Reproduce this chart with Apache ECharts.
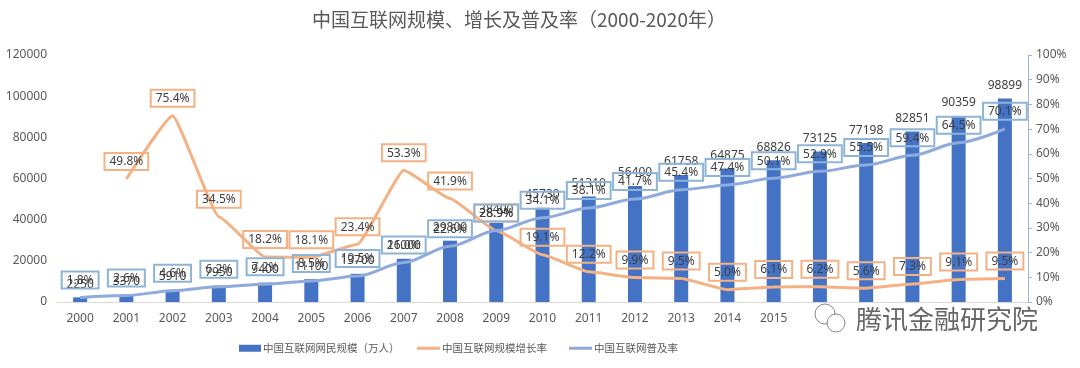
<!DOCTYPE html>
<html>
<head>
<meta charset="utf-8">
<script src="https://cdn.jsdelivr.net/npm/echarts@6/dist/echarts.min.js"></script>
<style>html,body{margin:0;padding:0;background:#fff;}#chart{width:1080px;height:368px;}</style>
</head>
<body>
<div id="chart"></div>
<script>
const years = ['2000','2001','2002','2003','2004','2005','2006','2007','2008','2009','2010','2011','2012','2013','2014','2015','2016','2017','2018','2019','2020'];
const users = [2250,3370,5910,7950,9400,11100,13700,21000,29800,38400,45730,51310,56400,61758,64875,68826,73125,77198,82851,90359,98899];
const growth = [null,49.8,75.4,34.5,18.2,18.1,23.4,53.3,41.9,28.9,19.1,12.2,9.9,9.5,5.0,6.1,6.2,5.6,7.3,9.1,9.5];
const penetration = [1.8,2.6,4.6,6.2,7.2,8.5,10.5,16.0,22.6,28.9,34.1,38.1,41.7,45.4,47.4,50.1,52.9,55.5,59.4,64.5,70.1];
const leftTicks = {min:0, max:120000, interval:20000};
const rightTicks = {min:0, max:100, interval:10};
const names = ['中国互联网网民规模（万人）','中国互联网规模增长率','中国互联网普及率'];
const titleText = '中国互联网规模、增长及普及率（2000-2020年）';
const watermark = '腾讯金融研究院';

const FONT = '"Noto Sans", "Noto Sans CJK SC", sans-serif';
const CJK = '"Noto Sans CJK SC", sans-serif';
const chart = echarts.init(document.getElementById('chart'), null, {renderer:'canvas'});
const pctFmt = p => (p.value == null ? '' : Number(p.value).toFixed(1) + '%');

chart.setOption({
  animation: false,
  backgroundColor: '#fff',
  textStyle: {fontFamily: FONT},
  title: {
    text: titleText, left: 307, top: 5, padding: 5,
    textStyle: {fontSize: 19, fontWeight: 'normal', color: '#595959', fontFamily: CJK}
  },
  legend: [
    {
      data: [{name: names[0], icon: 'rect'}],
      left: 239, top: 343, padding: 0, itemWidth: 22, itemHeight: 7, itemGap: 4,
      textStyle: {fontSize: 10.5, color: '#595959', fontFamily: CJK, padding:[0,0,0,-3]}
    },
    {
      data: [{name: names[1], icon: 'rect'}, {name: names[2], icon: 'rect'}],
      left: 417, top: 343, padding: 0, itemWidth: 23, itemHeight: 3, itemGap: 22,
      textStyle: {fontSize: 10.5, color: '#595959', fontFamily: CJK, padding:[0,0,0,-3]}
    }
  ],
  grid: {left: 57, right: 52, top: 55, bottom: 66},
  xAxis: {
    type: 'category', data: years,
    axisLine: {lineStyle: {color: '#d9d9d9'}},
    axisTick: {show: false},
    axisLabel: {color: '#595959', fontSize: 12, margin: 11}
  },
  yAxis: [
    {
      type: 'value', min: leftTicks.min, max: leftTicks.max, interval: leftTicks.interval,
      axisLine: {show: false}, axisTick: {show: false}, splitLine: {show: false},
      axisLabel: {color: '#595959', fontSize: 12, margin: 10, formatter: v => String(v)}
    },
    {
      type: 'value', min: rightTicks.min, max: rightTicks.max, interval: rightTicks.interval,
      position: 'right',
      axisLine: {show: true, lineStyle: {color: '#9db5dc', width: 1}},
      axisTick: {show: true, length: 4, lineStyle: {color: '#9db5dc'}},
      splitLine: {show: false},
      axisLabel: {color: '#595959', fontSize: 12, margin: 8, formatter: '{value}%'}
    }
  ],
  series: [
    {
      name: names[0], type: 'bar', data: users, barWidth: 14,
      itemStyle: {color: '#4472C4'},
      label: {show: true, position: 'top', distance: 7, color: '#404040', fontSize: 12}
    },
    {
      name: names[1], type: 'line', data: growth, yAxisIndex: 1,
      smooth: 0.12, smoothMonotone: 'x', symbol: 'circle', symbolSize: 0, connectNulls: false,
      lineStyle: {color: '#F4B183', width: 3}, itemStyle: {color: '#F4B183'},
      label: {show: true, position: 'top', distance: 9, formatter: pctFmt, color: '#404040', fontSize: 12,
        borderColor: '#F4B183', borderWidth: 1, padding: [3, 5, 2, 5], backgroundColor: 'transparent'}
    },
    {
      name: names[2], type: 'line', data: penetration, yAxisIndex: 1,
      smooth: 0.3, smoothMonotone: 'x', symbol: 'circle', symbolSize: 0,
      lineStyle: {color: '#8FAADC', width: 3}, itemStyle: {color: '#8FAADC'},
      label: {show: true, position: 'top', distance: 9, formatter: pctFmt, color: '#404040', fontSize: 12,
        borderColor: '#8EB4D6', borderWidth: 1, padding: [3, 5, 2, 5], backgroundColor: 'transparent'}
    }
  ],
  graphic: [
    {type: 'rect', left: 800, top: 309, shape: {width: 235, height: 30}, style: {fill: '#fff'}, z: 100},
    {type: 'circle', shape: {cx: 825, cy: 314, r: 10}, style: {fill: 'none', stroke: '#888', lineWidth: 1}, z: 101},
    {type: 'circle', shape: {cx: 836, cy: 323, r: 9}, style: {fill: '#fff', stroke: '#888', lineWidth: 1}, z: 102},
    {type: 'text', left: 855, top: 305, z: 103,
      style: {text: watermark, fontSize: 26, fill: '#666', stroke: '#fff', lineWidth: 2, fontFamily: CJK}}
  ]
});
</script>
</body>
</html>
